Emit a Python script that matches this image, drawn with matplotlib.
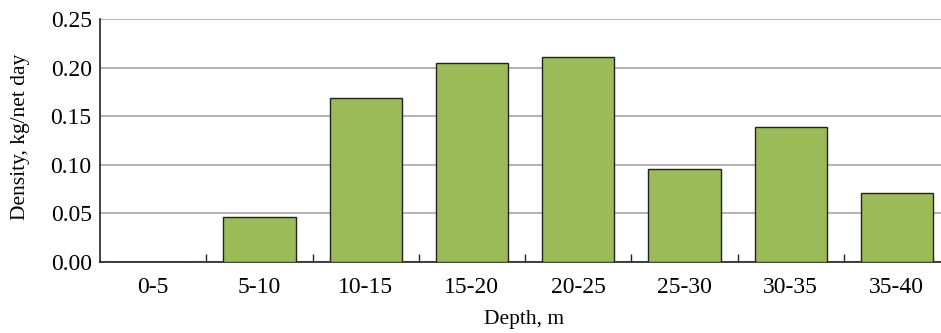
import numpy as np
import matplotlib.pyplot as plt

plt.rcParams['font.family'] = ['Liberation Serif', 'DejaVu Serif']

# depth classes and catch density
depths = ['0-5', '5-10', '10-15', '15-20', '20-25', '25-30', '30-35', '35-40']
density = [0.0, 0.046, 0.169, 0.205, 0.211, 0.096, 0.139, 0.071]
yticks = [0.00, 0.05, 0.10, 0.15, 0.20, 0.25]

fig = plt.figure(figsize=(9.41, 3.33), dpi=100)
# axes runs a little past the right edge, as in the original crop
ax = fig.add_axes([100 / 941, 1 - 262 / 333, 850 / 941, 243 / 333])

x = np.arange(len(depths))
ax.bar(x, density, width=0.68, color='#9bbb59', edgecolor='#222222',
       linewidth=1.0, zorder=3)

ax.set_xlim(-0.5, 7.5)
ax.set_ylim(0, 0.25)
ax.set_yticks(yticks)
ax.set_yticklabels([f'{v:.2f}' for v in yticks], fontsize=17)
ax.set_xticks(x)
ax.set_xticklabels(depths, fontsize=17)
ax.tick_params(axis='x', length=0, pad=11)
ax.tick_params(axis='y', length=0, pad=6)

# small separators between categories
ax.set_xticks(x[:-1] + 0.5, minor=True)
ax.tick_params(axis='x', which='minor', direction='in', length=6,
               width=1.0, color='#222222')

ax.grid(axis='y', color='#a6a6a6', linewidth=1.2, zorder=0)
ax.set_axisbelow(True)
for s in ['top', 'right']:
    ax.spines[s].set_visible(False)
ax.spines['left'].set_color('#222222')
ax.spines['bottom'].set_color('#222222')
ax.spines['left'].set_linewidth(1.2)
ax.spines['bottom'].set_linewidth(1.2)

ax.set_xlabel('Depth, m', fontsize=15.5)
ax.set_ylabel('Density, kg/net day', fontsize=15.5)
ax.xaxis.set_label_coords((524 - 100) / 850, (262 - 310) / 243)
ax.yaxis.set_label_coords((30 - 100) / 850, 0.516)

fig.savefig('out.png', dpi=100)
